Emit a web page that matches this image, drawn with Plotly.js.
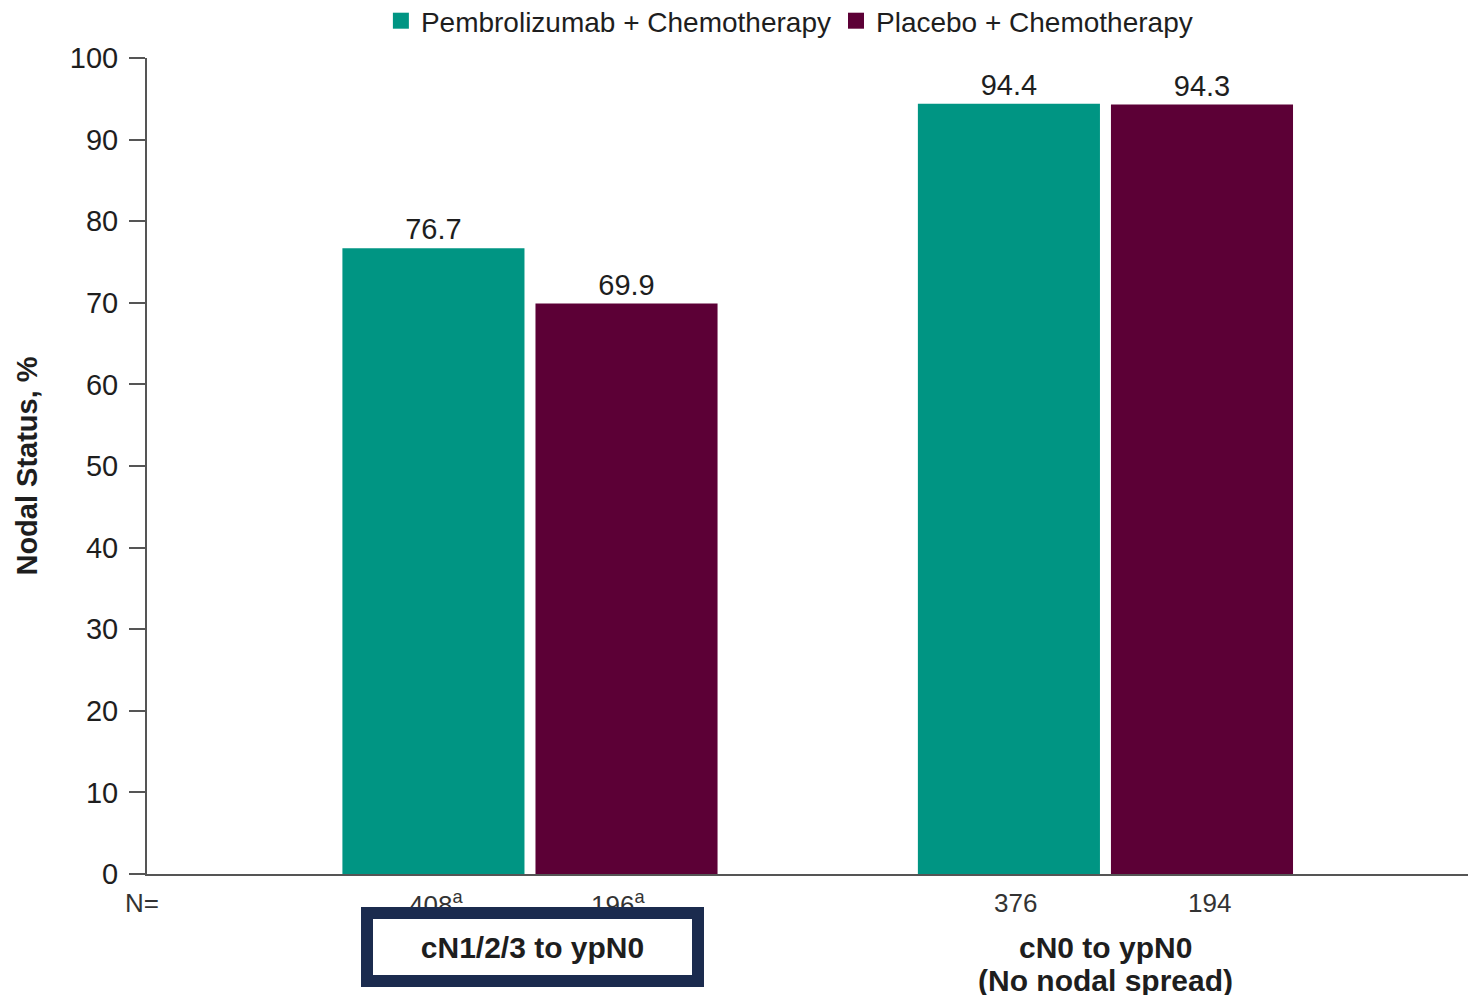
<!DOCTYPE html>
<html>
<head>
<meta charset="utf-8">
<script src="https://cdn.plot.ly/plotly-3.0.1.min.js"></script>
<style>html,body{margin:0;padding:0;background:#fff}#chart{width:1470px;height:995px}</style>
</head>
<body>
<div id="chart"></div>
<script>
const categories = ["cN1/2/3 to ypN0", "cN0 to ypN0<br>(No nodal spread)"];
const seriesNames = ["Pembrolizumab + Chemotherapy", "Placebo + Chemotherapy"];
const pembroValues = [76.7, 94.4];
const placeboValues = [69.9, 94.3];
const pembroN = ["408<sup>a</sup>", "376"];
const placeboN = ["196<sup>a</sup>", "194"];
const yTicks = [0, 10, 20, 30, 40, 50, 60, 70, 80, 90, 100];

const colors = ["#009583", "#5c0036"];
const FONT = "Liberation Sans, Arial, sans-serif";
const xIdx = categories.map((c, i) => i);

const barCommon = {
  type: "bar",
  texttemplate: "%{y:.1f}",
  textposition: "outside",
  textfont: {family: FONT, size: 29, color: "#1e1e1e"},
  cliponaxis: false,
  showlegend: false,
  hoverinfo: "skip"
};
const traces = [
  Object.assign({}, barCommon, {x: xIdx, y: pembroValues, name: seriesNames[0], marker: {color: colors[0]}}),
  Object.assign({}, barCommon, {x: xIdx, y: placeboValues, name: seriesNames[1], marker: {color: colors[1]}}),
  {type: "scatter", mode: "markers", x: [null], y: [null], name: seriesNames[0],
   marker: {symbol: "square", size: 22, color: colors[0]}, showlegend: true},
  {type: "scatter", mode: "markers", x: [null], y: [null], name: seriesNames[1],
   marker: {symbol: "square", size: 22, color: colors[1]}, showlegend: true}
];

const slotHalf = 0.1677;
const nFont = {family: FONT, size: 26, color: "#333"};
const annotations = [];
annotations.push({xref: "paper", yref: "paper", x: 0, y: 0, xanchor: "right", yanchor: "middle",
  xshift: 14, yshift: -29, text: "N=", showarrow: false, font: nFont});
const nShift = [[3, -8], [7, 8]];
xIdx.forEach((i) => {
  annotations.push({xref: "x", yref: "paper", x: i - slotHalf, y: 0, yanchor: "middle", yshift: -29,
    xshift: nShift[i][0], text: pembroN[i], showarrow: false, font: nFont});
  annotations.push({xref: "x", yref: "paper", x: i + slotHalf, y: 0, yanchor: "middle", yshift: -29,
    xshift: nShift[i][1], text: placeboN[i], showarrow: false, font: nFont});
});
const catFont = {family: FONT, size: 30, color: "#1e1e1e"};
// boxed first category label
annotations.push({xref: "x", yref: "paper", x: 0, y: 0, yanchor: "middle", yshift: -73, xshift: 3,
  text: "<b>" + categories[0] + "</b>", showarrow: false, font: catFont,
  bgcolor: "#ffffff", bordercolor: "#1b2b4e", borderwidth: 12, borderpad: 0,
  width: 319, height: 56});
// second category label, one annotation per line
categories[1].split("<br>").forEach((line, k) => {
  annotations.push({xref: "x", yref: "paper", x: 1, y: 0, yanchor: "middle", yshift: -73 - 33 * k,
    text: "<b>" + line + "</b>", showarrow: false, font: catFont});
});

const layout = {
  width: 1470, height: 995,
  margin: {l: 147, r: 2, t: 58, b: 121},
  paper_bgcolor: "#fff", plot_bgcolor: "#fff",
  font: {family: FONT, color: "#1e1e1e"},
  barmode: "group",
  bargap: 0.329,
  bargroupgap: 0.057,
  xaxis: {
    type: "linear", range: [-0.6655, 1.630], showticklabels: false, ticks: "",
    showgrid: false, zeroline: false, showline: true, linecolor: "#555", linewidth: 2
  },
  yaxis: {
    range: [0, 100], tickvals: yTicks, ticks: "outside", ticklen: 16, tickwidth: 2, tickcolor: "#555",
    ticklabelstandoff: 5,
    showline: true, linecolor: "#555", linewidth: 2, showgrid: false, zeroline: false,
    tickfont: {family: FONT, size: 29, color: "#1e1e1e"},
    title: {text: "<b>Nodal Status, %</b>", font: {family: FONT, size: 29, color: "#1e1e1e"}, standoff: 24}
  },
  legend: {
    orientation: "h", xref: "container", yref: "container", x: 0.537, y: 1 - 21 / 995,
    xanchor: "center", yanchor: "middle", font: {family: FONT, size: 28, color: "#1e1e1e"},
    itemwidth: 30, tracegroupgap: 0
  },
  annotations: annotations
};

Plotly.newPlot("chart", traces, layout, {staticPlot: true, displayModeBar: false});
</script>
</body>
</html>
